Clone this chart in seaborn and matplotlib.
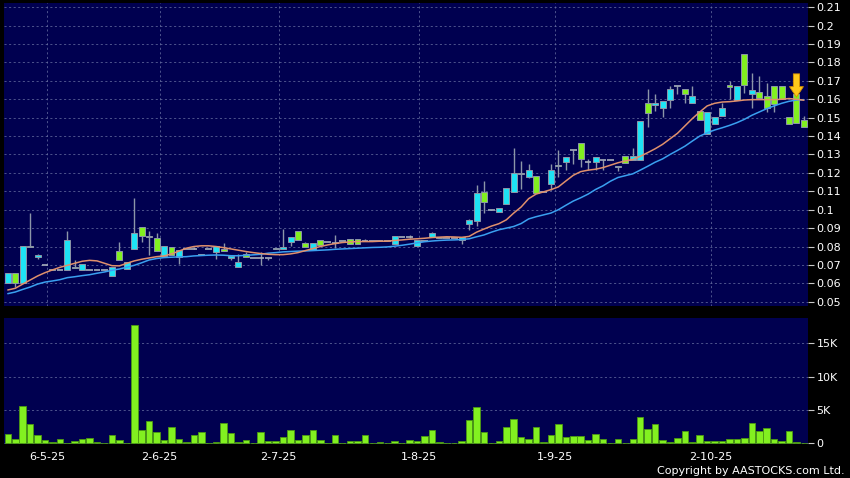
import numpy as np
import pandas as pd
import matplotlib
matplotlib.use("Agg")
import matplotlib.pyplot as plt
import seaborn as sns

# daily candles (one slot per trading day)
open_ = [0.0604, 0.0655, 0.0604, 0.0800, 0.0745, 0.0700, 0.0675, 0.0670, 0.0670, 0.0690,
         0.0670, 0.0670, 0.0670, 0.0670, 0.0638, 0.0777, 0.0677, 0.0786, 0.0904, 0.0858,
         0.0844, 0.0749, 0.0795, 0.0745, 0.0785, 0.0787, 0.0753, 0.0785, 0.0768, 0.0787,
         0.0738, 0.0687, 0.0757, 0.0738, 0.0736, 0.0736, 0.0785, 0.0789, 0.0827, 0.0885,
         0.0818, 0.0782, 0.0833, 0.0825, 0.0820, 0.0830, 0.0842, 0.0842, 0.0830, 0.0830,
         0.0830, 0.0830, 0.0815, 0.0852, 0.0852, 0.0802, 0.0830, 0.0853, 0.0852, 0.0845,
         0.0845, 0.0833, 0.0922, 0.0940, 0.1096, 0.1000, 0.0985, 0.1033, 0.1096, 0.1200,
         0.1178, 0.1182, 0.1095, 0.1142, 0.1238, 0.1260, 0.1324, 0.1360, 0.1260, 0.1260,
         0.1269, 0.1269, 0.1230, 0.1290, 0.1269, 0.1269, 0.1580, 0.1571, 0.1555, 0.1595,
         0.1673, 0.1655, 0.1582, 0.1534, 0.1413, 0.1464, 0.1507, 0.1677, 0.1595, 0.1847,
         0.1631, 0.1642, 0.1618, 0.1673, 0.1673, 0.1504, 0.1631, 0.1485]
high = [0.0655, 0.0655, 0.0805, 0.0980, 0.0758, 0.0700, 0.0675, 0.0670, 0.0887, 0.0725,
        0.0704, 0.0670, 0.0670, 0.0670, 0.0687, 0.0825, 0.0714, 0.1064, 0.0904, 0.0882,
        0.0873, 0.0805, 0.0795, 0.0782, 0.0785, 0.0800, 0.0759, 0.0785, 0.0805, 0.0820,
        0.0751, 0.0760, 0.0768, 0.0738, 0.0773, 0.0736, 0.0792, 0.0896, 0.0851, 0.0885,
        0.0827, 0.0818, 0.0833, 0.0825, 0.0865, 0.0830, 0.0842, 0.0842, 0.0842, 0.0830,
        0.0830, 0.0830, 0.0855, 0.0852, 0.0860, 0.0836, 0.0830, 0.0880, 0.0852, 0.0845,
        0.0845, 0.0850, 0.0951, 0.1133, 0.1156, 0.1000, 0.1011, 0.1120, 0.1336, 0.1264,
        0.1251, 0.1182, 0.1095, 0.1251, 0.1324, 0.1287, 0.1324, 0.1360, 0.1278, 0.1287,
        0.1269, 0.1269, 0.1240, 0.1290, 0.1336, 0.1482, 0.1655, 0.1627, 0.1590, 0.1673,
        0.1673, 0.1655, 0.1673, 0.1534, 0.1531, 0.1504, 0.1580, 0.1700, 0.1673, 0.1847,
        0.1745, 0.1727, 0.1691, 0.1673, 0.1673, 0.1504, 0.1631, 0.1509]
low = [0.0604, 0.0580, 0.0604, 0.0795, 0.0735, 0.0700, 0.0670, 0.0670, 0.0670, 0.0685,
       0.0670, 0.0670, 0.0670, 0.0670, 0.0638, 0.0725, 0.0677, 0.0786, 0.0822, 0.0755,
       0.0776, 0.0749, 0.0752, 0.0705, 0.0785, 0.0787, 0.0753, 0.0785, 0.0732, 0.0778,
       0.0728, 0.0687, 0.0745, 0.0738, 0.0700, 0.0725, 0.0785, 0.0789, 0.0805, 0.0836,
       0.0795, 0.0782, 0.0807, 0.0825, 0.0790, 0.0830, 0.0815, 0.0815, 0.0830, 0.0830,
       0.0830, 0.0830, 0.0815, 0.0852, 0.0845, 0.0802, 0.0830, 0.0853, 0.0845, 0.0845,
       0.0845, 0.0815, 0.0891, 0.0909, 0.0982, 0.1000, 0.0985, 0.1033, 0.1096, 0.1110,
       0.1170, 0.1091, 0.1095, 0.1105, 0.1178, 0.1215, 0.1251, 0.1233, 0.1215, 0.1218,
       0.1218, 0.1269, 0.1211, 0.1255, 0.1269, 0.1269, 0.1451, 0.1536, 0.1505, 0.1555,
       0.1627, 0.1582, 0.1582, 0.1485, 0.1413, 0.1464, 0.1507, 0.1600, 0.1595, 0.1636,
       0.1555, 0.1605, 0.1531, 0.1531, 0.1600, 0.1464, 0.1473, 0.1451]
close = [0.0655, 0.0604, 0.0805, 0.0795, 0.0755, 0.0700, 0.0670, 0.0670, 0.0836, 0.0685,
         0.0704, 0.0670, 0.0670, 0.0670, 0.0687, 0.0725, 0.0714, 0.0873, 0.0858, 0.0850,
         0.0776, 0.0805, 0.0752, 0.0782, 0.0785, 0.0787, 0.0759, 0.0785, 0.0805, 0.0778,
         0.0751, 0.0715, 0.0745, 0.0738, 0.0736, 0.0736, 0.0792, 0.0797, 0.0851, 0.0836,
         0.0795, 0.0818, 0.0807, 0.0825, 0.0820, 0.0830, 0.0815, 0.0815, 0.0830, 0.0830,
         0.0830, 0.0830, 0.0855, 0.0852, 0.0852, 0.0836, 0.0830, 0.0873, 0.0845, 0.0845,
         0.0845, 0.0850, 0.0942, 0.1093, 0.1042, 0.1000, 0.1011, 0.1120, 0.1202, 0.1195,
         0.1215, 0.1091, 0.1095, 0.1215, 0.1235, 0.1287, 0.1324, 0.1278, 0.1260, 0.1287,
         0.1269, 0.1269, 0.1240, 0.1255, 0.1291, 0.1482, 0.1524, 0.1580, 0.1590, 0.1655,
         0.1673, 0.1631, 0.1618, 0.1485, 0.1531, 0.1504, 0.1555, 0.1666, 0.1673, 0.1676,
         0.1651, 0.1605, 0.1555, 0.1573, 0.1600, 0.1464, 0.1473, 0.1451]
volume = [1400, 600, 5600, 2850, 1200, 450, 200, 600, 100, 350,
          600, 850, 250, 0, 1300, 500, 0, 17750, 2000, 3350,
          1700, 450, 2400, 650, 200, 1250, 1650, 0, 150, 3000,
          1550, 150, 500, 0, 1700, 400, 350, 950, 2000, 450,
          1250, 1950, 500, 0, 1300, 100, 300, 400, 1250, 0,
          150, 0, 300, 0, 550, 400, 1100, 2000, 200, 100,
          100, 300, 3500, 5500, 1750, 0, 400, 2400, 3650, 900,
          650, 2450, 250, 1200, 2850, 900, 1150, 1100, 450, 1350,
          650, 0, 700, 0, 700, 3900, 2200, 2850, 500, 150,
          800, 1900, 200, 1200, 400, 350, 350, 650, 650, 850,
          3000, 1800, 2300, 700, 350, 1850, 250, 50]
# moving averages as drawn on the chart
ma_fast = [0.0564, 0.0573, 0.0596, 0.0618, 0.0640, 0.0658, 0.0673, 0.0687, 0.0698, 0.0709,
           0.0720, 0.0725, 0.0722, 0.0709, 0.0696, 0.0695, 0.0709, 0.0722, 0.0731, 0.0738,
           0.0745, 0.0749, 0.0760, 0.0775, 0.0791, 0.0800, 0.0804, 0.0804, 0.0800, 0.0794,
           0.0787, 0.0780, 0.0773, 0.0767, 0.0762, 0.0758, 0.0756, 0.0756, 0.0760, 0.0767,
           0.0778, 0.0789, 0.0800, 0.0809, 0.0816, 0.0822, 0.0825, 0.0827, 0.0827, 0.0827,
           0.0829, 0.0829, 0.0833, 0.0836, 0.0840, 0.0842, 0.0845, 0.0849, 0.0851, 0.0853,
           0.0852, 0.0850, 0.0855, 0.0878, 0.0895, 0.0911, 0.0924, 0.0945, 0.0982, 0.1015,
           0.1060, 0.1085, 0.1097, 0.1109, 0.1124, 0.1156, 0.1187, 0.1207, 0.1215, 0.1220,
           0.1229, 0.1242, 0.1255, 0.1265, 0.1273, 0.1290, 0.1310, 0.1331, 0.1355, 0.1385,
           0.1415, 0.1455, 0.1495, 0.1531, 0.1564, 0.1578, 0.1585, 0.1587, 0.1591, 0.1596,
           0.1598, 0.1598, 0.1598, 0.1598, 0.1600, 0.1604, 0.1600, 0.1595]
ma_slow = [0.0544, 0.0553, 0.0567, 0.0580, 0.0596, 0.0607, 0.0613, 0.0620, 0.0631, 0.0636,
           0.0642, 0.0647, 0.0655, 0.0662, 0.0671, 0.0678, 0.0688, 0.0698, 0.0712, 0.0727,
           0.0735, 0.0740, 0.0742, 0.0744, 0.0745, 0.0749, 0.0751, 0.0753, 0.0754, 0.0753,
           0.0750, 0.0750, 0.0752, 0.0755, 0.0758, 0.0764, 0.0767, 0.0771, 0.0773, 0.0775,
           0.0776, 0.0778, 0.0780, 0.0782, 0.0785, 0.0787, 0.0789, 0.0791, 0.0793, 0.0795,
           0.0796, 0.0798, 0.0802, 0.0807, 0.0813, 0.0820, 0.0826, 0.0830, 0.0833, 0.0835,
           0.0836, 0.0838, 0.0842, 0.0853, 0.0863, 0.0878, 0.0891, 0.0900, 0.0909, 0.0925,
           0.0950, 0.0962, 0.0972, 0.0982, 0.1000, 0.1024, 0.1047, 0.1065, 0.1085, 0.1110,
           0.1130, 0.1155, 0.1175, 0.1185, 0.1195, 0.1215, 0.1236, 0.1258, 0.1276, 0.1300,
           0.1322, 0.1345, 0.1373, 0.1400, 0.1418, 0.1433, 0.1445, 0.1458, 0.1473, 0.1491,
           0.1513, 0.1531, 0.1549, 0.1564, 0.1578, 0.1589, 0.1596, 0.1598]
date_labels = ["6-5-25", "2-6-25", "2-7-25", "1-8-25", "1-9-25", "2-10-25"]
date_slots = [5.3, 20.4, 36.4, 55.3, 73.5, 94.5]
price_ticks = [0.05, 0.06, 0.07, 0.08, 0.09, 0.10, 0.11, 0.12, 0.13, 0.14, 0.15,
               0.16, 0.17, 0.18, 0.19, 0.20, 0.21]
vol_ticks = [0, 5000, 10000, 15000]
vol_labels = ["0", "5K", "10K", "15K"]

df = pd.DataFrame({"open": open_, "high": high, "low": low, "close": close,
                   "volume": volume, "ma_fast": ma_fast, "ma_slow": ma_slow})
df["i"] = np.arange(len(df))

sns.set_theme(style="dark")
plt.rcParams["font.family"] = ["DejaVu Sans"]

BG = "#000050"
UP = "#1ee3f5"
DOWN = "#82f020"
EDGE = "#8c96a8"
GRID = "#7078a8"

fig = plt.figure(figsize=(8.5, 4.78), dpi=100, facecolor="black")
ax1 = fig.add_axes([4 / 850, 1 - 306 / 478, 804 / 850, 303 / 478])
ax2 = fig.add_axes([4 / 850, 1 - 444 / 478, 804 / 850, 126 / 478])

for ax in (ax1, ax2):
    ax.set_facecolor(BG)
    for s in ax.spines.values():
        s.set_visible(False)
    ax.set_axisbelow(True)
    ax.grid(True, color=GRID, linestyle=(0, (2.5, 3)), linewidth=0.6, alpha=0.8)

# candles
up = df[df.close > df.open]
dn = df[df.close < df.open]
flat = df[df.close == df.open]
ax1.vlines(df.i, df.low, df.high, color=EDGE, linewidth=1.0, zorder=2)
for part, col in ((up, UP), (dn, DOWN)):
    body = np.maximum((part.close - part.open).abs(), 0.0006)
    ax1.bar(part.i, body, bottom=np.minimum(part.open, part.close), width=0.8,
            color=col, edgecolor=EDGE, linewidth=0.7, zorder=3)
ax1.hlines(flat.close, flat.i - 0.45, flat.i + 0.45, color="#a8b0bc", linewidth=1.2, zorder=3)

sns.lineplot(data=df, x="i", y="ma_slow", ax=ax1, color="#3aa0f0", linewidth=1.1, zorder=4)
sns.lineplot(data=df, x="i", y="ma_fast", ax=ax1, color="#e0906c", linewidth=1.1, zorder=4)

ax1.annotate("", xy=(106, 0.1612), xytext=(106, 0.1738),
             arrowprops=dict(arrowstyle="simple,head_length=0.75,head_width=1.0,tail_width=0.45",
                             fc="#ffc81a", ec="#d89000", lw=0.6, shrinkA=0, shrinkB=0,
                             mutation_scale=10),
             zorder=6, annotation_clip=False)

ax1.set_xlim(-0.51, 107.55)
ax1.set_ylim(0.0477, 0.2123)
ax1.yaxis.tick_right()
ax1.set_yticks(price_ticks)
ax1.set_yticklabels([f"{round(v, 2):g}" for v in price_ticks])
ax1.set_xticks(date_slots)
ax1.tick_params(axis="x", length=0, labelbottom=False)
ax1.tick_params(axis="y", colors="#c8c8c8", labelcolor="white", labelsize=8, length=4,
                width=0.8, pad=2)
ax1.set_xlabel("")
ax1.set_ylabel("")

# volume
sns.barplot(data=df, x="i", y="volume", ax=ax2, color=DOWN, width=0.88, saturation=1,
            edgecolor="#4c9a12", linewidth=0.6)
ax2.set_xlim(-0.51, 107.55)
ax2.set_ylim(-100, 18800)
ax2.yaxis.tick_right()
ax2.set_yticks(vol_ticks)
ax2.set_yticklabels(vol_labels)
ax2.set_xticks(date_slots)
ax2.set_xticklabels(date_labels)
ax2.tick_params(axis="y", colors="#c8c8c8", labelcolor="white", labelsize=8, length=4,
                width=0.8, pad=2)
ax2.tick_params(axis="x", colors="#c8c8c8", labelcolor="white", labelsize=8, length=3,
                width=0.8, pad=3)
ax2.set_xlabel("")
ax2.set_ylabel("")

fig.text(845 / 850, 1 - 471 / 478, "Copyright by AASTOCKS.com Ltd.", color="white",
         fontsize=8, ha="right", va="center")

fig.savefig("out.png", dpi=100, facecolor="black")
